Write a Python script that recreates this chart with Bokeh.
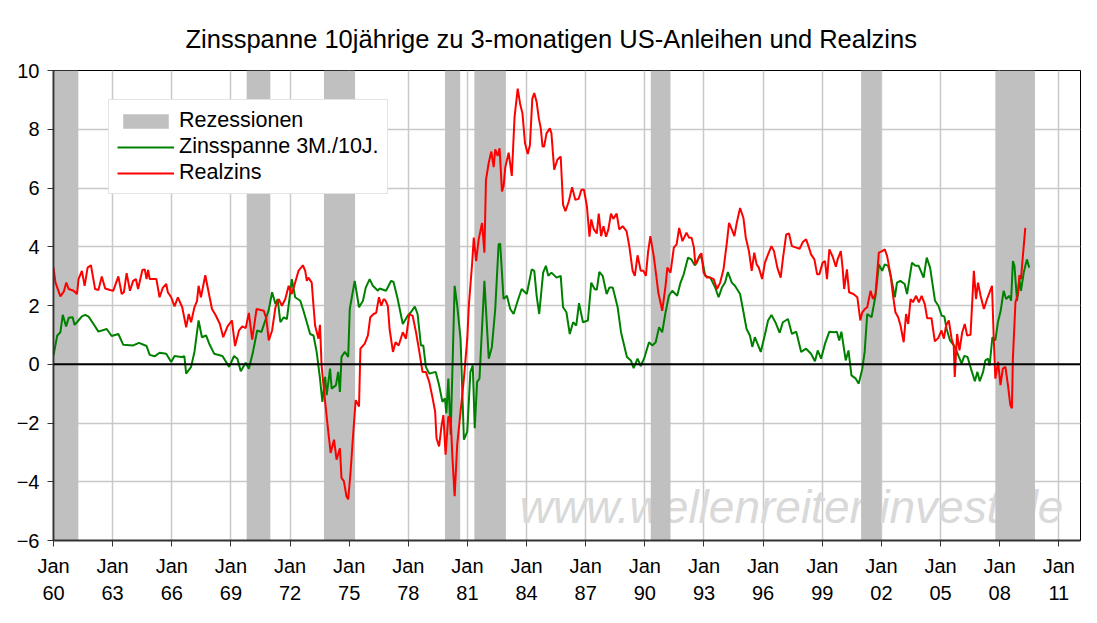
from bokeh.plotting import figure
from bokeh.models import Range1d, FixedTicker, Span, Label, Legend, LegendItem, ColumnDataSource
from bokeh.embed import file_html
from bokeh.resources import INLINE

TITLE = "Zinsspanne 10jährige zu 3-monatigen US-Anleihen und Realzins"

# Recessions (decimal years)
rec_start = [1960.05, 1969.80, 1973.72, 1979.86, 1981.35, 1990.30, 2000.97, 2007.78]
rec_end = [1961.26, 1971.00, 1975.30, 1980.63, 1982.95, 1991.30, 2001.98, 2009.79]

# Zinsspanne 3M./10J. (green)
spread_year = [
    1960.00, 1960.19, 1960.35, 1960.47, 1960.64, 1960.77, 1960.97, 1961.07, 1961.19, 1961.44,
    1961.61, 1961.78, 1962.03, 1962.28, 1962.70, 1962.95, 1963.29, 1963.54, 1964.04, 1964.34,
    1964.72, 1964.88, 1965.13, 1965.38, 1965.72, 1965.97, 1966.14, 1966.48, 1966.64, 1966.73,
    1966.98, 1967.15, 1967.36, 1967.53, 1967.74, 1967.90, 1968.15, 1968.57, 1968.91, 1969.16,
    1969.33, 1969.50, 1969.75, 1969.91, 1970.12, 1970.33, 1970.55, 1970.75, 1970.92, 1971.09,
    1971.26, 1971.37, 1971.51, 1971.68, 1971.84, 1972.01, 1972.09, 1972.26, 1972.52, 1972.68,
    1973.02, 1973.19, 1973.35, 1973.52, 1973.64, 1973.78, 1973.86, 1974.03, 1974.11, 1974.33,
    1974.44, 1974.53, 1974.61, 1974.78, 1974.95, 1975.03, 1975.28, 1975.50, 1975.70, 1975.84,
    1976.04, 1976.20, 1976.46, 1976.54, 1976.87, 1977.13, 1977.25, 1977.46, 1977.72, 1977.97,
    1978.13, 1978.33, 1978.47, 1978.64, 1978.76, 1978.89, 1979.06, 1979.39, 1979.56, 1979.73,
    1979.86, 1979.93, 1980.03, 1980.15, 1980.35, 1980.48, 1980.65, 1980.82, 1980.99, 1981.15,
    1981.27, 1981.37, 1981.49, 1981.61, 1981.86, 1982.08, 1982.24, 1982.41, 1982.58, 1982.66,
    1982.83, 1983.00, 1983.17, 1983.34, 1983.55, 1983.75, 1984.01, 1984.26, 1984.39, 1984.51,
    1984.64, 1984.84, 1984.98, 1985.10, 1985.26, 1985.52, 1985.73, 1985.85, 1986.02, 1986.19,
    1986.36, 1986.52, 1986.66, 1986.86, 1987.11, 1987.28, 1987.45, 1987.56, 1987.69, 1987.86,
    1988.06, 1988.20, 1988.37, 1988.62, 1988.79, 1989.09, 1989.29, 1989.43, 1989.63, 1989.79,
    1989.96, 1990.21, 1990.38, 1990.55, 1990.72, 1990.88, 1991.05, 1991.22, 1991.39, 1991.64,
    1991.81, 1991.97, 1992.19, 1992.36, 1992.53, 1992.64, 1992.81, 1992.93, 1993.06, 1993.32,
    1993.57, 1993.74, 1993.91, 1994.07, 1994.21, 1994.41, 1994.57, 1994.83, 1994.99, 1995.16,
    1995.33, 1995.45, 1995.58, 1995.88, 1996.08, 1996.25, 1996.42, 1996.62, 1996.84, 1997.00,
    1997.26, 1997.46, 1997.68, 1997.93, 1998.18, 1998.43, 1998.63, 1998.77, 1998.94, 1999.14,
    1999.36, 1999.61, 1999.74, 1999.86, 1999.97, 2000.19, 2000.33, 2000.48, 2000.70, 2000.85,
    2001.03, 2001.15, 2001.28, 2001.50, 2001.70, 2001.87, 2002.04, 2002.17, 2002.34, 2002.51,
    2002.68, 2002.79, 2002.96, 2003.18, 2003.30, 2003.42, 2003.55, 2003.72, 2003.89, 2004.14,
    2004.30, 2004.47, 2004.72, 2004.89, 2005.06, 2005.19, 2005.31, 2005.48, 2005.73, 2005.93,
    2006.07, 2006.20, 2006.37, 2006.57, 2006.74, 2006.87, 2006.99, 2007.16, 2007.27, 2007.41,
    2007.49, 2007.63, 2007.78, 2007.91, 2008.05, 2008.20, 2008.33, 2008.50, 2008.58, 2008.67,
    2008.75, 2008.88, 2009.00, 2009.08, 2009.22, 2009.38, 2009.50]
spread = [
    0.30, 0.98, 1.09, 1.68, 1.29, 1.58, 1.60, 1.34, 1.43, 1.63,
    1.68, 1.62, 1.37, 1.11, 1.20, 0.96, 1.03, 0.66, 0.64, 0.73,
    0.62, 0.32, 0.27, 0.39, 0.36, 0.08, 0.28, 0.25, 0.27, -0.32,
    -0.09, 0.42, 1.49, 0.92, 0.98, 0.70, 0.36, 0.28, -0.09, 0.28,
    0.19, -0.24, 0.05, -0.15, 0.42, 1.15, 1.10, 1.50, 1.85, 2.45,
    2.05, 2.22, 1.43, 1.60, 1.54, 2.45, 2.90, 2.28, 2.16, 1.82,
    1.03, 0.98, 0.42, -0.49, -1.28, -0.43, -1.05, -0.15, -0.83, -0.71,
    -0.26, -0.94, 0.25, 0.42, 0.25, 1.88, 2.84, 1.94, 2.16, 2.61,
    2.90, 2.67, 2.50, 2.58, 2.50, 2.84, 2.80, 2.22, 1.37, 1.65,
    1.77, 1.96, 1.71, 0.64, 0.64, -0.09, -0.32, -0.26, -0.71, -1.28,
    -1.16, -1.67, -0.49, -2.40, 2.67, 2.00, 0.87, -2.57, -2.29, -0.26,
    -0.04, -2.18, -0.60, -0.49, 2.84, 0.19, 0.59, 1.88, 4.08, 4.11,
    2.22, 2.33, 1.88, 1.71, 2.16, 2.56, 2.39, 3.23, 3.18, 2.33,
    1.71, 3.12, 3.35, 3.01, 3.12, 2.95, 3.01, 1.94, 1.77, 1.03,
    1.43, 1.32, 2.08, 1.43, 1.49, 2.78, 2.56, 2.53, 3.14, 3.01,
    2.39, 2.61, 2.61, 1.94, 1.09, 0.25, 0.13, -0.13, 0.19, -0.06,
    0.19, 0.75, 0.64, 0.75, 1.26, 1.09, 1.77, 2.33, 2.50, 2.33,
    2.78, 3.06, 3.63, 3.57, 3.37, 3.46, 3.74, 3.48, 3.01, 2.95,
    2.61, 2.28, 2.61, 2.78, 3.14, 2.78, 2.67, 2.39, 1.82, 1.20,
    0.98, 0.59, 0.92, 0.42, 0.98, 1.49, 1.68, 1.43, 1.07, 1.43,
    1.54, 1.03, 1.11, 0.42, 0.53, 0.36, 0.10, 0.47, 0.19, 0.70,
    1.11, 1.09, 1.11, 0.81, 1.11, 0.13, 0.47, -0.38, -0.49, -0.66,
    -0.15, 0.42, 1.71, 1.60, 2.33, 3.40, 3.18, 3.40, 3.35, 2.90,
    2.28, 2.78, 2.84, 2.73, 2.39, 2.90, 3.46, 3.35, 3.35, 2.95,
    3.63, 3.29, 2.16, 1.99, 1.65, 1.63, 1.20, 0.81, 0.59, 0.25,
    0.02, 0.28, 0.25, -0.21, -0.58, -0.26, -0.58, -0.26, 0.13, 0.19,
    -0.04, 0.92, 0.81, 1.43, 1.82, 2.50, 2.22, 2.33, 2.16, 3.51,
    3.35, 2.16, 2.90, 2.50, 3.12, 3.57, 3.29]

# Realzins (red)
real_year = [
    1960.00, 1960.10, 1960.35, 1960.52, 1960.65, 1960.77, 1961.02, 1961.19, 1961.27, 1961.44,
    1961.58, 1961.73, 1961.90, 1962.11, 1962.28, 1962.45, 1962.62, 1962.87, 1963.03, 1963.29,
    1963.46, 1963.57, 1963.71, 1963.88, 1964.04, 1964.18, 1964.29, 1964.51, 1964.63, 1964.72,
    1964.80, 1964.88, 1965.22, 1965.38, 1965.55, 1965.72, 1965.80, 1965.97, 1966.14, 1966.31,
    1966.53, 1966.73, 1966.86, 1966.98, 1967.15, 1967.28, 1967.36, 1967.48, 1967.70, 1967.87,
    1968.04, 1968.24, 1968.44, 1968.61, 1968.83, 1969.05, 1969.21, 1969.41, 1969.58, 1969.75,
    1969.91, 1970.08, 1970.30, 1970.67, 1970.80, 1970.92, 1971.09, 1971.26, 1971.42, 1971.59,
    1971.76, 1971.93, 1972.09, 1972.26, 1972.43, 1972.65, 1972.77, 1972.85, 1972.93, 1973.10,
    1973.19, 1973.27, 1973.44, 1973.52, 1973.60, 1973.78, 1973.94, 1974.06, 1974.23, 1974.36,
    1974.53, 1974.61, 1974.73, 1974.86, 1974.95, 1975.06, 1975.20, 1975.33, 1975.50, 1975.57,
    1975.79, 1975.95, 1976.07, 1976.24, 1976.37, 1976.51, 1976.63, 1976.75, 1976.85, 1976.96,
    1977.05, 1977.22, 1977.35, 1977.51, 1977.72, 1977.88, 1978.05, 1978.22, 1978.39, 1978.56,
    1978.72, 1978.89, 1979.06, 1979.22, 1979.36, 1979.43, 1979.56, 1979.69, 1979.78, 1979.89,
    1980.03, 1980.15, 1980.23, 1980.35, 1980.48, 1980.65, 1980.82, 1980.99, 1981.07, 1981.24,
    1981.32, 1981.44, 1981.57, 1981.74, 1981.86, 1981.94, 1982.08, 1982.21, 1982.33, 1982.41,
    1982.53, 1982.63, 1982.75, 1982.83, 1982.92, 1983.09, 1983.25, 1983.39, 1983.55, 1983.67,
    1983.79, 1983.92, 1984.06, 1984.17, 1984.29, 1984.39, 1984.51, 1984.62, 1984.72, 1984.81,
    1984.89, 1985.01, 1985.18, 1985.26, 1985.40, 1985.56, 1985.73, 1985.85, 1985.97, 1986.14,
    1986.31, 1986.47, 1986.64, 1986.78, 1986.91, 1987.06, 1987.19, 1987.28, 1987.41, 1987.56,
    1987.66, 1987.78, 1987.90, 1988.03, 1988.15, 1988.28, 1988.40, 1988.57, 1988.70, 1988.87,
    1989.07, 1989.21, 1989.38, 1989.49, 1989.63, 1989.79, 1989.93, 1990.05, 1990.16, 1990.28,
    1990.45, 1990.60, 1990.68, 1990.88, 1991.05, 1991.14, 1991.30, 1991.47, 1991.61, 1991.74,
    1991.91, 1992.11, 1992.24, 1992.37, 1992.49, 1992.56, 1992.73, 1992.87, 1992.98, 1993.15,
    1993.32, 1993.49, 1993.66, 1993.82, 1993.99, 1994.16, 1994.27, 1994.41, 1994.54, 1994.66,
    1994.83, 1995.00, 1995.12, 1995.28, 1995.42, 1995.55, 1995.67, 1995.78, 1995.95, 1996.09,
    1996.25, 1996.42, 1996.55, 1996.72, 1996.89, 1997.01, 1997.17, 1997.31, 1997.46, 1997.68,
    1997.85, 1998.01, 1998.18, 1998.30, 1998.43, 1998.60, 1998.74, 1998.85, 1999.02, 1999.14,
    1999.24, 1999.36, 1999.53, 1999.69, 1999.78, 1999.94, 2000.03, 2000.11, 2000.25, 2000.36,
    2000.58, 2000.78, 2000.93, 2001.03, 2001.16, 2001.28, 2001.45, 2001.57, 2001.70, 2001.87,
    2002.04, 2002.17, 2002.29, 2002.46, 2002.58, 2002.71, 2002.85, 2002.97, 2003.13, 2003.25,
    2003.36, 2003.48, 2003.60, 2003.76, 2003.90, 2004.04, 2004.20, 2004.32, 2004.54, 2004.71,
    2004.88, 2005.05, 2005.17, 2005.28, 2005.42, 2005.56, 2005.67, 2005.72, 2005.84, 2005.96,
    2006.10, 2006.23, 2006.35, 2006.52, 2006.69, 2006.80, 2006.90, 2007.03, 2007.20, 2007.36,
    2007.61, 2007.70, 2007.78, 2007.92, 2008.04, 2008.16, 2008.29, 2008.42, 2008.54, 2008.62,
    2008.67, 2008.80, 2008.93, 2009.00, 2009.08, 2009.17, 2009.30]
realzins = [
    3.29, 2.78, 2.31, 2.47, 2.78, 2.56, 2.50, 2.39, 2.90, 3.18,
    2.67, 3.29, 3.37, 2.56, 2.53, 2.99, 2.58, 2.53, 2.50, 2.99,
    2.39, 2.45, 3.10, 2.50, 2.84, 2.90, 2.56, 3.21, 3.23, 2.90,
    3.21, 2.90, 2.90, 2.28, 2.61, 2.73, 2.45, 2.28, 1.97, 2.28,
    1.94, 1.26, 1.71, 1.43, 1.94, 2.16, 2.67, 2.28, 3.03, 2.45,
    1.88, 1.65, 1.37, 0.92, 1.29, 1.49, 0.62, 1.15, 1.29, 1.23,
    1.75, 0.84, 1.88, 1.82, 1.54, 0.81, 1.15, 1.94, 2.22, 1.99,
    2.22, 2.67, 2.39, 2.78, 3.18, 3.37, 3.18, 2.84, 2.95, 2.78,
    1.99, 1.32, 0.87, 1.34, -0.04, -1.28, -2.29, -3.02, -2.57, -3.25,
    -2.86, -3.87, -3.98, -4.49, -4.60, -3.76, -2.40, -1.22, -1.44, 0.53,
    0.70, 0.98, 1.60, 1.71, 1.75, 2.28, 1.99, 2.22, 2.16, 1.99,
    1.20, 0.42, 0.75, 0.64, 1.09, 0.87, 1.71, 1.65, 1.09, 0.42,
    -0.26, -0.26, -0.60, -1.11, -1.61, -2.52, -2.80, -2.07, -1.73, -3.08,
    -1.78, -1.84, -3.08, -4.49, -2.74, -1.61, -0.49, 0.87, 1.99, 3.46,
    4.31, 3.51, 4.25, 4.81, 3.80, 6.28, 6.86, 7.24, 6.71, 7.32,
    7.09, 7.35, 5.88, 6.05, 6.71, 7.20, 6.41, 8.42, 9.38, 8.87,
    8.54, 7.52, 7.16, 7.46, 9.04, 9.23, 8.93, 8.37, 8.03, 7.41,
    7.41, 7.86, 8.03, 7.86, 6.62, 6.96, 7.07, 5.43, 5.21, 5.54,
    6.03, 5.60, 5.63, 5.94, 5.94, 5.38, 4.34, 4.93, 4.59, 4.45,
    5.13, 4.36, 4.70, 4.34, 4.59, 5.13, 4.95, 5.13, 4.59, 4.70,
    4.53, 4.02, 3.18, 3.01, 3.71, 3.18, 3.18, 3.01, 3.80, 4.36,
    3.68, 2.90, 2.45, 1.82, 2.67, 3.29, 3.12, 3.97, 4.08, 4.64,
    4.19, 4.48, 4.31, 4.31, 3.97, 3.40, 3.63, 3.78, 3.12, 2.95,
    2.95, 2.90, 2.56, 2.78, 3.23, 4.14, 4.81, 4.59, 4.36, 4.81,
    5.32, 4.98, 4.31, 3.85, 3.18, 3.80, 3.40, 3.29, 2.90, 3.46,
    3.74, 4.02, 3.85, 3.29, 2.95, 3.63, 4.42, 4.45, 4.02, 3.97,
    3.93, 4.16, 4.25, 4.02, 3.74, 3.57, 3.06, 3.06, 3.46, 3.51,
    2.90, 3.91, 3.66, 3.32, 3.57, 3.85, 3.29, 2.56, 3.23, 2.45,
    2.39, 2.28, 1.49, 1.77, 1.88, 1.94, 2.50, 2.22, 2.39, 3.80,
    3.85, 3.91, 3.68, 3.06, 2.39, 1.77, 1.60, 1.32, 0.75, 1.71,
    1.37, 2.22, 2.11, 2.33, 2.11, 2.33, 2.05, 1.57, 1.57, 0.78,
    0.89, 1.15, 0.87, 1.32, 1.49, 0.87, 0.64, -0.43, 1.03, 0.47,
    1.09, 1.37, 0.98, 1.00, 3.18, 2.22, 2.78, 2.33, 1.88, 2.22,
    2.67, 0.87, -0.49, 0.08, -0.71, -0.15, -0.09, -0.71, -1.39, -1.50,
    0.19, 2.11, 2.39, 3.03, 2.90, 3.63, 4.64]

# Axis ticks
x_ticks = [1960, 1963, 1966, 1969, 1972, 1975, 1978, 1981, 1984, 1987,
           1990, 1993, 1996, 1999, 2002, 2005, 2008, 2011]
x_tick_labels = ["Jan\n60", "Jan\n63", "Jan\n66", "Jan\n69", "Jan\n72", "Jan\n75",
                 "Jan\n78", "Jan\n81", "Jan\n84", "Jan\n87", "Jan\n90", "Jan\n93",
                 "Jan\n96", "Jan\n99", "Jan\n02", "Jan\n05", "Jan\n08", "Jan\n11"]
y_ticks = [-6, -4, -2, 0, 2, 4, 6, 8, 10]
Y_MIN, Y_MAX = -6, 10

FONT = "Liberation Sans"

p = figure(width=1081, height=607, output_backend="svg", toolbar_location=None,
           x_range=Range1d(1960, 2012.1), y_range=Range1d(Y_MIN, Y_MAX),
           min_border_left=53, min_border_right=1, min_border_top=70, min_border_bottom=64,
           title=TITLE)
p.title.align = "left"
p.title.offset = 132
p.title.text_font = FONT
p.title.text_font_size = "25.5px"
p.title.text_font_style = "normal"
p.title.text_color = "black"
p.title.standoff = 36

p.background_fill_color = "white"
p.border_fill_color = "white"
p.outline_line_color = "black"
p.outline_line_width = 1

# watermark
wm = Label(x=1983.65, y=-4.85, text="www.wellenreiter-invest.de", text_font=FONT,
           text_font_size="46px", text_font_style="italic", text_color="#d9d9d9",
           text_baseline="alphabetic", level="underlay")
p.add_layout(wm)

rec_src = ColumnDataSource(dict(left=rec_start, right=rec_end,
                                bottom=[Y_MIN] * len(rec_start), top=[Y_MAX] * len(rec_start)))
r_rec = p.quad(left="left", right="right", bottom="bottom", top="top", source=rec_src,
               fill_color="#c0c0c0", line_color=None)

r_green = p.line(spread_year, spread, line_color="#008000", line_width=2)
r_red = p.line(real_year, realzins, line_color="#ff0000", line_width=2)

p.add_layout(Span(location=0, dimension="width", line_color="black", line_width=2))

# axes
p.xaxis.ticker = FixedTicker(ticks=x_ticks)
p.xaxis.major_label_overrides = dict(zip(x_ticks, x_tick_labels))
p.yaxis.ticker = FixedTicker(ticks=y_ticks)
p.axis.minor_tick_line_color = None
p.xaxis.major_tick_in = 0
p.xaxis.major_tick_out = 6
p.yaxis.major_tick_in = 0
p.yaxis.major_tick_out = 6
p.xaxis.axis_line_color = "#333333"
p.xaxis.axis_line_width = 2
p.yaxis.axis_line_color = "#333333"
p.yaxis.axis_line_width = 2
p.axis.major_tick_line_color = "#333333"
p.axis.major_label_text_color = "black"
p.yaxis.major_label_text_font = FONT
p.yaxis.major_label_text_font_size = "20px"
p.yaxis.major_label_standoff = 8
p.xaxis.major_label_text_font = FONT
p.xaxis.major_label_text_font_size = "20px"
p.xaxis.major_label_text_line_height = 1.25
p.xaxis.major_label_standoff = 8

p.xgrid.ticker = FixedTicker(ticks=x_ticks)
p.ygrid.ticker = FixedTicker(ticks=y_ticks)
p.grid.grid_line_color = "#c8c8c8"
p.grid.grid_line_width = 1.5

legend = Legend(items=[LegendItem(label="Rezessionen", renderers=[r_rec]),
                       LegendItem(label="Zinsspanne 3M./10J.", renderers=[r_green]),
                       LegendItem(label="Realzins", renderers=[r_red])],
                location=(55, 346))
legend.label_text_font = FONT
legend.label_text_font_size = "21.5px"
legend.label_text_color = "black"
legend.glyph_width = 57
legend.glyph_height = 18
legend.label_height = 18
legend.spacing = 1
legend.padding = 8
legend.margin = 0
legend.label_standoff = 5
legend.border_line_color = "#c8c8c8"
legend.border_line_width = 1
legend.background_fill_color = "white"
legend.background_fill_alpha = 1
p.add_layout(legend)

open("out.html", "w").write(file_html(p, INLINE))
